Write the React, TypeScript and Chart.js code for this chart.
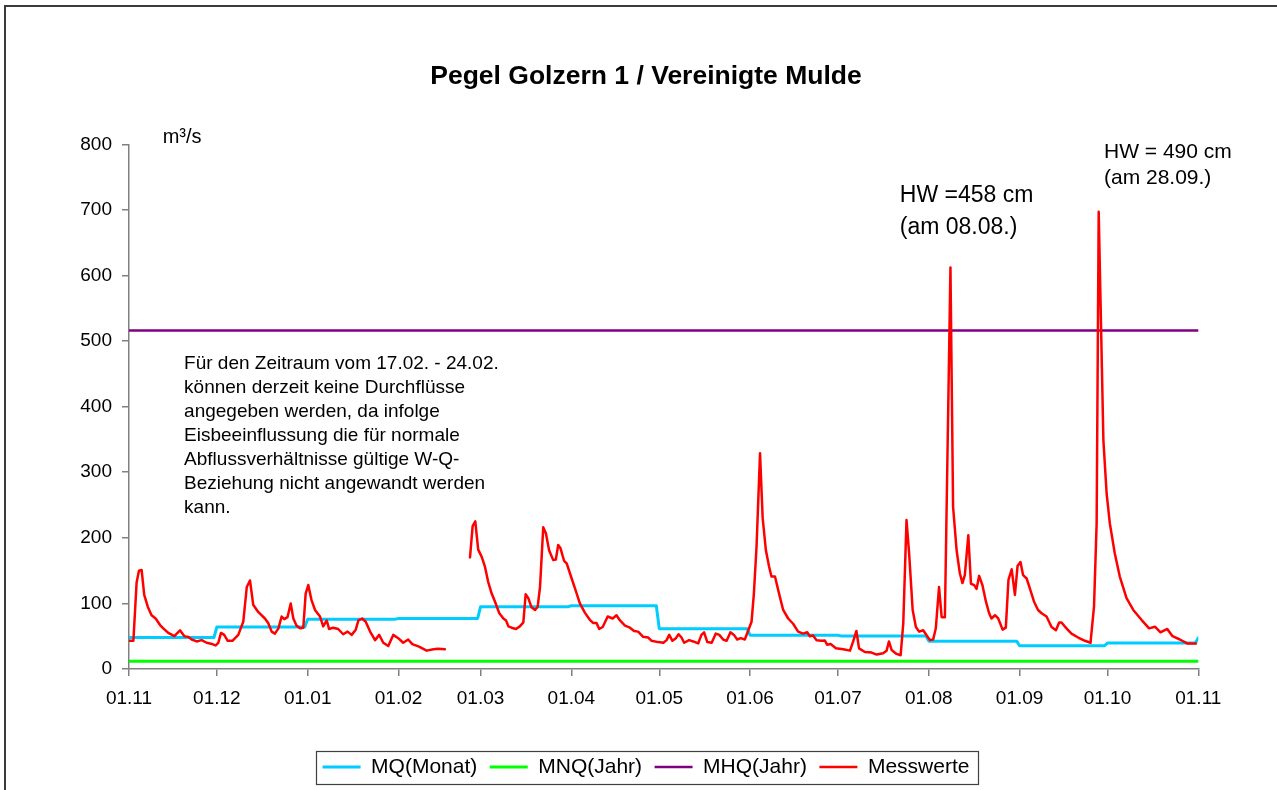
import { useEffect, useRef } from "react";
import { Chart, registerables } from "chart.js";

Chart.register(...registerables);
Chart.defaults.font.family = "'Liberation Sans', Arial, sans-serif";

// ---- data ----
const monthTicks = [0, 30, 61, 92, 120, 151, 181, 212, 242, 273, 304, 334, 365];
const monthLabels = ["01.11", "01.12", "01.01", "01.02", "01.03", "01.04", "01.05", "01.06", "01.07", "01.08", "01.09", "01.10", "01.11"];
const yTicks = [0, 100, 200, 300, 400, 500, 600, 700, 800];

const mqX = [0, 29, 30, 60, 61, 91, 92, 119, 120, 150, 151, 180, 181, 211, 212, 242, 243, 272, 273, 303, 304, 333, 334, 364, 365];
const mqY = [48, 48, 64, 64, 76, 76, 77, 77, 95, 95, 96.5, 96.5, 61.5, 61.5, 51.5, 51.5, 50.5, 50.5, 42.5, 42.5, 35.5, 35.5, 39.5, 39.5, 47.5];

const mnqValue = 12;
const mhqValue = 516;

const messX = [
  0, 1.5, 2.6, 3.4, 4.3, 5.2, 6.4, 7.7, 9.1, 10.6, 11.7, 13.4, 15.5, 17.4, 18.9, 20.2, 21.4, 23.1, 24.8, 26.5, 28.4, 29.6,
  30.5, 31.4, 32.5, 33.7, 35.3, 37.3, 39, 40.2, 41.3, 42.4, 44.1, 46.4, 47.5, 48.7, 49.8, 51, 52.1, 53, 54.1, 55.2, 56.1, 57.2, 58.4, 59.5,
  60.3, 61.2, 62.3, 63.5, 65.2, 66.3, 67.5, 68.3, 69.7, 71.4, 73.1, 74.6, 76, 77.4, 78.3, 79.6, 80.8, 82.3, 84, 85.4, 86.8, 88.5,
  90.2, 91.9, 93.6, 95.3, 96.7, 99, 101.6, 103.9, 105.5, 107.8,
  111,
  116.4, 117.3, 118.2, 119.2, 120.4, 121.5, 122.6, 123.8, 124.9, 126.4, 127.8, 128.7, 129.5, 130.6, 132.1, 133.4, 134.6, 135.4, 136.3,
  137.4, 138.6, 139.5, 140.3, 141.4, 142.3, 143.4, 144.8, 145.7, 146.5, 147.3, 148.5, 149.4, 151.1, 152.6, 153.9, 155.6, 157.3, 158.5,
  159.6, 160.5, 161.7, 163.4, 165.1, 166.4, 167.6, 169.3, 171, 172.4, 173.8, 175.5, 177.2, 178.4, 180.6, 182.4, 183.5, 184.4, 185.5,
  186.7, 187.6, 188.6, 189.5, 191.2, 192.6, 194.3, 195.4, 196.3, 197.4, 198.9, 200.3, 201.5, 202.8, 204, 205.3, 206.5, 207.6, 208.8,
  210.2, 211.4, 212.5, 213.3, 214.2, 215.4, 216.3, 217.4, 218.5, 219.3, 220.5, 222, 223.3, 225, 226.7, 228.4, 230.1, 231.5, 232.4,
  233.5, 234.7, 236.4, 237.5, 238.3, 239.5, 241.3, 243.8, 246.1, 247.2, 248.3, 249.2, 251.2, 253.5, 255.2, 257.4, 258.6, 259.4, 260.3,
  262, 263.4, 264.3, 265.4, 266.3, 267.5, 268.6, 269.7, 271.1, 272, 273.4, 274.5, 275.4, 276.5, 277.4, 278.5, 280.4, 281.3, 282.5,
  283.6, 284.5, 285.3, 286.5, 287.4, 288.5, 289.3, 290.2, 291.3, 292.5, 293.6, 294.4, 295.6, 296.7, 298.2, 299.3, 300.2, 301.3, 302.4,
  303.3, 304.3, 305.2, 306.4, 307.5, 308.9, 310.3, 311.5, 313.2, 314.9, 316.4, 317.5, 318.3, 320, 321.7, 324, 326.3, 328.2, 329.4,
  330.3, 331, 332.6, 333.7, 334.8, 336.5, 338.2, 340.5, 342.8, 345.6, 348.2, 350.2, 352.1, 354.4, 356.2, 358.7, 361.2, 364.2,
];
const messY: (number | null)[] = [
  43, 43, 132, 150, 151, 113, 95, 82, 77, 67, 62, 55, 50, 59, 50, 49, 45, 42, 44, 40, 38, 36,
  40, 55, 52, 43, 43, 52, 72, 125, 135, 98, 87, 77, 70, 57, 54, 62, 80, 76, 79, 100, 77, 66, 62, 63,
  115, 128, 105, 90, 80, 65, 74, 61, 63, 61, 53, 57, 52, 60, 74, 77, 72, 57, 44, 52, 40, 35,
  52, 47, 40, 45, 38, 34, 28, 30, 31, 30,
  null,
  170, 218, 225, 182, 171, 156, 133, 115, 103, 85, 77, 74, 65, 63, 61, 65, 71, 114, 108,
  94, 90, 95, 125, 216, 207, 181, 166, 167, 189, 184, 165, 161, 138, 118, 100, 86, 75, 70,
  70, 61, 64, 80, 77, 82, 74, 66, 63, 58, 57, 49, 48, 43, 41, 40, 44, 52, 43,
  47, 53, 48, 40, 44, 42, 39, 52, 56, 41, 40, 54, 52, 45, 43, 56, 52, 45, 47,
  45, 59, 72, 115, 186, 329, 230, 181, 156, 141, 141, 113, 90, 77, 69, 57, 54, 56, 50,
  51, 44, 43, 43.5, 37, 38, 31.5, 30, 28, 42, 58, 31.5, 26, 25, 22, 24, 28, 42, 29,
  23, 21, 70, 227, 176, 90, 64, 57, 59, 53, 44, 45, 62, 125, 79, 79, 612, 247, 181,
  146, 131, 143, 204, 130, 128, 122, 142, 128, 103, 85, 77, 82, 77, 60, 63, 136, 152, 113,
  157, 163, 143, 138, 123, 103, 90, 85, 80, 64, 59, 71, 71, 62, 54, 48, 43, 40, 95,
  222, 697, 349, 268, 222, 176, 141, 108, 90, 75, 62, 64.5, 56, 61, 50, 45, 39, 39,
];

const noteLines = [
  "Für den Zeitraum vom 17.02. - 24.02.",
  "können derzeit keine Durchflüsse",
  "angegeben werden, da infolge",
  "Eisbeeinflussung die für normale",
  "Abflussverhältnisse gültige W-Q-",
  "Beziehung nicht angewandt werden",
  "kann.",
];
const hw1Lines = ["HW =458 cm", "(am 08.08.)"];
const hw2Lines = ["HW = 490 cm", "(am 28.09.)"];
const unitLabel = "m³/s";

const FONT = "'Liberation Sans', Arial, sans-serif";

const annotationPlugin = {
  id: "annotations",
  afterDraw(chart: any) {
    const { ctx, scales } = chart;
    const x = scales.x;
    const y = scales.y;
    ctx.save();
    ctx.fillStyle = "#000";
    ctx.textAlign = "left";
    ctx.textBaseline = "middle";

    ctx.font = `20px ${FONT}`;
    ctx.fillText(unitLabel, x.getPixelForValue(11.5), y.getPixelForValue(810));

    ctx.font = `19px ${FONT}`;
    const nx = x.getPixelForValue(18.8);
    const ny = y.getPixelForValue(466);
    noteLines.forEach((t, i) => ctx.fillText(t, nx, ny + i * 24.1));

    ctx.font = `23px ${FONT}`;
    const h1x = x.getPixelForValue(263.1);
    const h1y = y.getPixelForValue(721);
    hw1Lines.forEach((t, i) => ctx.fillText(t, h1x, h1y + i * 32));

    ctx.font = `21px ${FONT}`;
    const h2x = x.getPixelForValue(332.8);
    const h2y = y.getPixelForValue(788);
    hw2Lines.forEach((t, i) => ctx.fillText(t, h2x, h2y + i * 26));

    // legend frame
    const lg = chart.legend;
    if (lg && lg.legendHitBoxes && lg.legendHitBoxes.length) {
      const hb = lg.legendHitBoxes;
      let l = Infinity, r = -Infinity;
      hb.forEach((h: any) => {
        l = Math.min(l, h.left);
        r = Math.max(r, h.left + h.width);
      });
      const cy = hb[0].top + 10.5;
      ctx.strokeStyle = "#404040";
      ctx.lineWidth = 1.2;
      ctx.strokeRect(Math.round(l - 6.5) + 0.5, Math.round(cy - 16.5) + 0.5, Math.round(r - l + 15.5), 33);
    }
    ctx.restore();
  },
};

export default function App() {
  const ref = useRef<HTMLCanvasElement>(null);
  useEffect(() => {
    const canvas = ref.current;
    if (!canvas) return;
    const chart = new Chart(canvas, {
      type: "line",
      data: {
        datasets: [
          {
            label: "MQ(Monat)",
            data: mqX.map((v, i) => ({ x: v, y: mqY[i] })),
            borderColor: "#00CCFF",
            backgroundColor: "#00CCFF",
            borderWidth: 3,
            order: 4,
          },
          {
            label: "MNQ(Jahr)",
            data: [{ x: 0, y: mnqValue }, { x: 365, y: mnqValue }],
            borderColor: "#00FF00",
            backgroundColor: "#00FF00",
            borderWidth: 3,
            order: 3,
          },
          {
            label: "MHQ(Jahr)",
            data: [{ x: 0, y: mhqValue }, { x: 365, y: mhqValue }],
            borderColor: "#800080",
            backgroundColor: "#800080",
            borderWidth: 2.5,
            order: 2,
          },
          {
            label: "Messwerte",
            data: messX.map((v, i) => ({ x: v, y: messY[i] })),
            borderColor: "#FF0000",
            backgroundColor: "#FF0000",
            borderWidth: 2.5,
            spanGaps: false,
            order: 1,
          },
        ] as any,
      },
      options: {
        animation: false,
        responsive: false,
        events: [],
        layout: { padding: { left: 15, right: 0, top: 0, bottom: 2.5 } },
        elements: {
          line: { tension: 0, borderJoinStyle: "round", borderCapStyle: "round" },
          point: { radius: 0, hoverRadius: 0 },
        },
        scales: {
          x: {
            type: "linear",
            min: 0,
            max: 365,
            afterBuildTicks: (s: any) => {
              s.ticks = monthTicks.map((v) => ({ value: v }));
            },
            afterFit: (s: any) => {
              s.height = 75;
            },
            ticks: {
              autoSkip: false,
              maxRotation: 0,
              minRotation: 0,
              callback: (_v: any, i: number) => monthLabels[i],
              font: { size: 19 },
              color: "#000",
              padding: 11,
            },
            grid: { drawOnChartArea: false, drawTicks: true, tickLength: 7, color: "#808080", lineWidth: 1.5 },
            border: { display: true, color: "#808080", width: 1.5 },
          },
          y: {
            position: "left",
            min: 0,
            max: 800,
            afterBuildTicks: (s: any) => {
              s.ticks = yTicks.map((v) => ({ value: v }));
            },
            afterFit: (s: any) => {
              s.width = 114;
            },
            ticks: { font: { size: 19 }, color: "#000", padding: 10 },
            grid: { drawOnChartArea: false, drawTicks: true, tickLength: 7, color: "#808080", lineWidth: 1.5 },
            border: { display: true, color: "#808080", width: 1.5 },
          },
          yRight: {
            position: "right",
            min: 0,
            max: 800,
            display: true,
            afterFit: (s: any) => {
              s.width = 78.7;
            },
            ticks: { display: false },
            grid: { display: false, drawTicks: false },
            border: { display: false },
          },
        },
        plugins: {
          title: {
            display: true,
            text: "Pegel Golzern 1 / Vereinigte Mulde",
            font: { size: 26.5, weight: "bold" },
            color: "#000",
            padding: { top: 61, bottom: 51.5 },
          },
          legend: {
            position: "bottom",
            labels: {
              usePointStyle: true,
              pointStyle: "line",
              pointStyleWidth: 38,
              font: { size: 21 },
              color: "#000",
              padding: 12.5,
              sort: (a: any, b: any) => a.datasetIndex - b.datasetIndex,
            },
          },
          tooltip: { enabled: false },
        },
      } as any,
      plugins: [annotationPlugin],
    });
    return () => chart.destroy();
  }, []);

  return (
    <div style={{ position: "fixed", left: 0, top: 0, width: 1277, height: 790, overflow: "hidden", background: "#fff" }}>
      <div
        style={{
          position: "absolute",
          left: 4,
          top: 5,
          width: 1400,
          height: 900,
          borderTop: "2px solid #3a3a3a",
          borderLeft: "2px solid #3a3a3a",
          boxSizing: "border-box",
        }}
      />
      <canvas ref={ref} width={1277} height={790} style={{ position: "absolute", left: 0, top: 0 }} />
    </div>
  );
}
